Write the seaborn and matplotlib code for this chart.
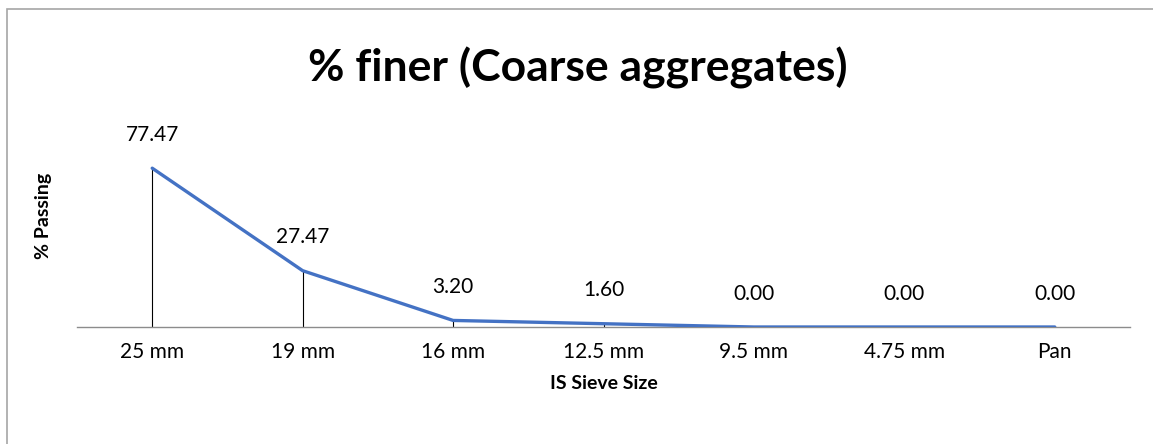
import matplotlib
matplotlib.use("Agg")
import matplotlib.pyplot as plt
import seaborn as sns
import pandas as pd
from matplotlib.patches import Rectangle

sieve_sizes = ['25 mm', '19 mm', '16 mm', '12.5 mm', '9.5 mm', '4.75 mm', 'Pan']
pct_finer = [77.47, 27.47, 3.20, 1.60, 0.00, 0.00, 0.00]

df = pd.DataFrame({'sieve': sieve_sizes, 'finer': pct_finer})
df['pos'] = range(len(df))

sns.set_theme(style='white')
plt.rcParams['font.family'] = ['Lato', 'DejaVu Sans']
plt.rcParams['text.color'] = 'black'

fig = plt.figure(figsize=(11.53, 4.44), dpi=100)
ax = fig.add_axes([77 / 1153, 1 - 327 / 444, 1053 / 1153, 205 / 444])

# drop lines from each point to the axis
ax.vlines(df['pos'], 0, df['finer'], color='black', linewidth=0.8, zorder=1)
sns.lineplot(data=df, x='pos', y='finer', color='#4472C4', linewidth=2.4, ax=ax, zorder=3)

for x, y in zip(df['pos'], df['finer']):
    ax.annotate(f'{y:.2f}', (x, y), xytext=(0, 24), textcoords='offset points',
                ha='center', va='center', fontsize=15, color='black')

ax.set_xlim(-0.5, 6.5)
ax.set_ylim(0, 100)
ax.set_xticks(df['pos'])
ax.set_xticklabels(sieve_sizes, fontsize=15, color='black')
ax.set_yticks([])
ax.tick_params(axis='x', length=0, pad=11)
for s in ['top', 'right', 'left']:
    ax.spines[s].set_visible(False)
ax.spines['bottom'].set_color('#8C8C8C')
ax.spines['bottom'].set_linewidth(1)

ax.set_xlabel('IS Sieve Size', fontsize=14, fontweight='bold', color='black')
ax.xaxis.set_label_coords(0.5, -48 / 205)
ax.set_ylabel('% Passing', fontsize=14, fontweight='bold', color='black')
ax.yaxis.set_label_coords(-25 / 1053, (327 - 216) / 205)

fig.text(578 / 1153, 1 - 68 / 444, '% finer (Coarse aggregates)', ha='center', va='center',
         fontsize=32, fontweight='bold', color='black')

# chart area border (only top and left visible in the crop)
fig.patches.append(Rectangle((7 / 1153, -0.1), 1.2, 1 - 9 / 444 + 0.1, transform=fig.transFigure,
                             fill=False, edgecolor='#A6A6A6', linewidth=1.2))

fig.savefig('out.png', dpi=100)
